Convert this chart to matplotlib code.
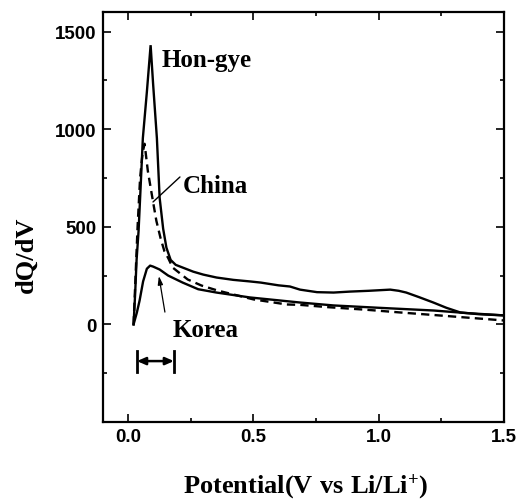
import matplotlib
matplotlib.use("Agg")
import matplotlib.pyplot as plt
from matplotlib.ticker import MultipleLocator

plt.rcParams["mathtext.fontset"] = "custom"
plt.rcParams["mathtext.rm"] = "Liberation Serif:bold"
plt.rcParams["mathtext.bf"] = "Liberation Serif:bold"
plt.rcParams["mathtext.it"] = "Liberation Serif:bold"

# Potential (V vs Li/Li+) and dQ/dV for each sample
hongye_x = [0.022, 0.028, 0.034, 0.042, 0.050, 0.059, 0.075, 0.090, 0.100, 0.115, 0.126,
            0.140, 0.153, 0.170, 0.190, 0.218, 0.260, 0.300, 0.353, 0.420, 0.486, 0.530,
            0.600, 0.646, 0.686, 0.754, 0.820, 0.886, 0.960, 1.046, 1.080, 1.110, 1.160,
            1.218, 1.270, 1.326, 1.400, 1.500]
hongye_y = [0, 150, 330, 480, 700, 954, 1190, 1430, 1230, 954, 648,
            490, 393, 330, 305, 291, 270, 255, 240, 228, 220, 214,
            200, 194, 178, 165, 163, 168, 172, 178, 172, 163, 140,
            112, 85, 61, 52, 46]

china_x = [0.022, 0.030, 0.038, 0.048, 0.058, 0.066, 0.079, 0.099, 0.113, 0.130, 0.145,
           0.160, 0.178, 0.238, 0.293, 0.358, 0.500, 0.633, 0.686, 0.800, 0.950, 1.086,
           1.250, 1.400, 1.500]
china_y = [0, 250, 500, 750, 880, 925, 785, 633, 530, 440, 375,
           340, 291, 230, 199, 173, 128, 102, 100, 88, 75, 61,
           45, 30, 20]

korea_x = [0.022, 0.035, 0.046, 0.060, 0.075, 0.088, 0.100, 0.126, 0.160, 0.218, 0.280,
           0.353, 0.486, 0.686, 0.820, 1.000, 1.220, 1.350, 1.500]
korea_y = [0, 60, 122, 220, 285, 301, 296, 281, 250, 214, 180,
           163, 138, 112, 97, 85, 71, 58, 46]

x_ticks = [0.0, 0.5, 1.0, 1.5]
x_tick_labels = ["0.0", "0.5", "1.0", "1.5"]
y_ticks = [0, 500, 1000, 1500]
y_tick_labels = ["0", "500", "1000", "1500"]

serif = "Liberation Serif"
sans = "Liberation Sans"

fig = plt.figure(figsize=(5.31, 5.02), dpi=100)
ax = fig.add_axes([103 / 531, 79 / 502, 401 / 531, 410 / 502])

ax.plot(hongye_x, hongye_y, color="black", lw=1.7, solid_joinstyle="miter")
ax.plot(china_x, china_y, color="black", lw=1.7, linestyle=(0, (3.5, 2.2)))
ax.plot(korea_x, korea_y, color="black", lw=1.7)

ax.set_xlim(-0.1, 1.5)
ax.set_ylim(-500, 1600)

ax.set_xticks(x_ticks)
ax.set_xticklabels(x_tick_labels)
ax.set_yticks(y_ticks)
ax.set_yticklabels(y_tick_labels)
ax.xaxis.set_minor_locator(MultipleLocator(0.25))
ax.yaxis.set_minor_locator(MultipleLocator(250))

ax.tick_params(which="both", direction="in", top=True, right=True, width=1.2, color="black")
ax.tick_params(which="major", length=6)
ax.tick_params(which="minor", length=3)
ax.tick_params(axis="y", which="major", pad=4.5)
ax.tick_params(axis="x", which="major", pad=4)
for lab in ax.get_xticklabels() + ax.get_yticklabels():
    lab.set_fontfamily(sans)
    lab.set_fontweight("bold")
    lab.set_fontsize(13.5)

for sp in ax.spines.values():
    sp.set_linewidth(1.6)

ax.set_xlabel(r"$\mathrm{Potential(V\ vs\ Li/Li^{+})}$", fontsize=19)
ax.xaxis.label.set_va("baseline")
ax.xaxis.set_label_coords(0.505, -0.170)
ax.set_ylabel("dQ/dV", fontfamily=serif, fontweight="bold", fontsize=19)
ax.yaxis.set_label_coords(-0.162, 0.41)

ax.text(0.135, 1323, "Hon-gye", fontfamily=serif, fontweight="bold", fontsize=18,
        ha="left", va="baseline")
ax.text(0.219, 678, "China", fontfamily=serif, fontweight="bold", fontsize=18,
        ha="left", va="baseline")
ax.text(0.179, -60, "Korea", fontfamily=serif, fontweight="bold", fontsize=18,
        ha="left", va="baseline")

# China pointer (plain line)
ax.annotate("", xy=(0.0995, 627), xytext=(0.207, 755),
            arrowprops=dict(arrowstyle="-", color="black", lw=1.0, shrinkA=0, shrinkB=0))
# Korea pointer (thin arrow)
ax.annotate("", xy=(0.123, 248), xytext=(0.147, 63),
            arrowprops=dict(arrowstyle="-|>,head_length=0.5,head_width=0.15", color="black",
                            lw=0.9, shrinkA=0, shrinkB=0))

# Range marker with double arrow
ax.plot([0.0357, 0.0357], [-136, -244], color="black", lw=2.0)
ax.plot([0.183, 0.183], [-136, -244], color="black", lw=2.0)
ax.annotate("", xy=(0.0357, -188), xytext=(0.183, -188),
            arrowprops=dict(arrowstyle="<|-|>,head_length=0.5,head_width=0.22", color="black",
                            lw=1.8, shrinkA=0, shrinkB=0))

fig.savefig("out.png", dpi=100)
